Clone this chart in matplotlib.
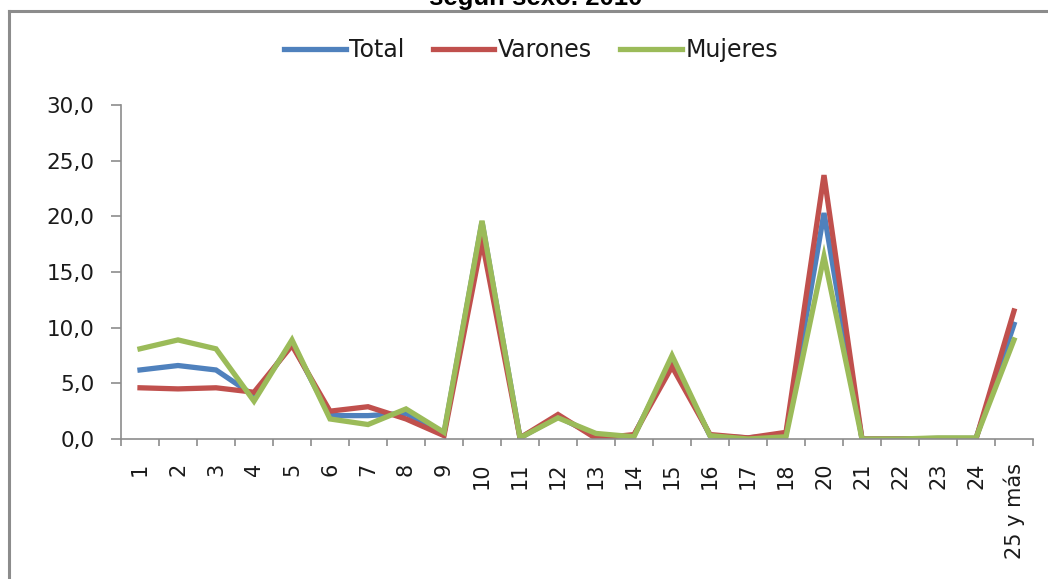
import matplotlib
matplotlib.use("Agg")
import matplotlib.pyplot as plt
from matplotlib.lines import Line2D
import numpy as np

categories = ["1", "2", "3", "4", "5", "6", "7", "8", "9", "10", "11", "12", "13", "14",
              "15", "16", "17", "18", "20", "21", "22", "23", "24", "25 y más"]
total = [6.2, 6.6, 6.2, 3.9, 8.6, 2.1, 2.1, 2.3, 0.5, 19.5, 0.1, 2.0, 0.3, 0.3,
         7.1, 0.3, 0.1, 0.4, 20.3, 0.0, 0.0, 0.05, 0.05, 10.3]
varones = [4.6, 4.5, 4.6, 4.2, 8.4, 2.5, 2.9, 1.8, 0.3, 17.8, 0.1, 2.2, 0.05, 0.4,
           6.5, 0.4, 0.1, 0.6, 23.7, 0.0, 0.0, 0.0, 0.0, 11.5]
mujeres = [8.1, 8.9, 8.1, 3.4, 8.9, 1.8, 1.3, 2.7, 0.6, 19.6, 0.1, 1.9, 0.5, 0.2,
           7.5, 0.3, 0.0, 0.2, 16.4, 0.0, 0.0, 0.1, 0.1, 8.9]
series_names = ["Total", "Varones", "Mujeres"]
colors = ["#4F81BD", "#C0504D", "#9BBB59"]
title_text = "según sexo. 2010"

W, H = 1048, 579
fig = plt.figure(figsize=(W / 100, H / 100), dpi=100)
fig.patch.set_facecolor("white")

# outer frame (left and top visible)
fig.add_artist(Line2D([9 / W, 9 / W], [0, 1 - 11 / H], color="#8c8c8c", lw=2.2,
                      transform=fig.transFigure))
fig.add_artist(Line2D([9 / W, 1.0], [1 - 11 / H, 1 - 11 / H], color="#8c8c8c", lw=2.2,
                      transform=fig.transFigure))

fig.text(536 / W, 1 - 5 / H, title_text, ha="center", va="baseline",
         fontsize=18.5, fontweight="bold", family="Liberation Sans")

ax = fig.add_axes([121 / W, 1 - 439 / H, (1033 - 121) / W, (439 - 105) / H])
x = np.arange(len(categories))
lines = []
for vals, name, c in zip([total, varones, mujeres], series_names, colors):
    ln, = ax.plot(x, vals, color=c, lw=3.8, label=name, solid_joinstyle="miter")
    lines.append(ln)

ax.set_xlim(-0.5, len(categories) - 0.5)
ax.set_ylim(0, 30)
yt = np.arange(0, 30.1, 5)
ax.set_yticks(yt)
ax.set_yticklabels([f"{v:.1f}".replace(".", ",") for v in yt],
                   fontsize=15.5, family="DejaVu Sans", color="#1a1a1a")
ax.set_xticks(x)
ax.set_xticklabels(categories, rotation=90, fontsize=15, family="DejaVu Sans", color="#1a1a1a")
ax.set_xticks(np.arange(-0.5, len(categories)), minor=True)
ax.tick_params(axis="x", which="major", length=0, pad=17)
ax.tick_params(axis="x", which="minor", length=5, color="#8c8c8c", width=1.2, direction="out")
ax.tick_params(axis="y", which="major", length=7.2, color="#8c8c8c", width=1.2, pad=12)
for s in ["top", "right"]:
    ax.spines[s].set_visible(False)
for s in ["left", "bottom"]:
    ax.spines[s].set_color("#8c8c8c")
    ax.spines[s].set_linewidth(1.2)

leg = fig.legend(handles=lines, labels=series_names, loc="center",
                 bbox_to_anchor=(531 / W, 1 - 50 / H), ncol=3, frameon=False,
                 handlelength=2.6, handletextpad=0.15, columnspacing=1.2,
                 prop={"family": "DejaVu Sans", "size": 17})
for t in leg.get_texts():
    t.set_color("#1a1a1a")

fig.savefig("out.png", dpi=100, facecolor="white")
